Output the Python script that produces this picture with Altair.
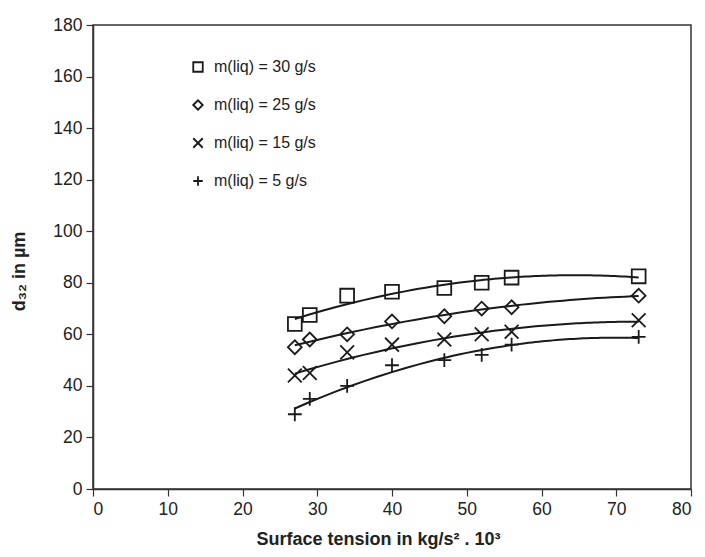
import altair as alt
import pandas as pd

# Surface tension values (x)
tension = [27, 29, 34, 40, 47, 52, 56, 73]

# d32 values per liquid mass flow
d_30 = [64.0, 67.5, 75.0, 76.5, 78.0, 80.0, 82.0, 82.5]
d_25 = [55.0, 58.0, 60.0, 65.0, 67.0, 70.0, 70.5, 75.0]
d_15 = [44.0, 45.0, 53.0, 56.0, 58.0, 60.0, 61.0, 65.5]
d_5 = [29.0, 35.0, 40.0, 48.0, 50.0, 52.0, 56.0, 59.0]

series_labels = ["m(liq) = 30 g/s", "m(liq) = 25 g/s", "m(liq) = 15 g/s", "m(liq) = 5 g/s"]
series_values = [d_30, d_25, d_15, d_5]

rows = []
for lab, vals in zip(series_labels, series_values):
    for x, y in zip(tension, vals):
        rows.append({"series": lab, "x": x, "y": y})
df = pd.DataFrame(rows)

FONT = "Liberation Sans"
INK = "#1a1a1a"

shape_scale = alt.Scale(
    domain=series_labels,
    range=["square", "diamond", "M-1,-1L1,1M-1,1L1,-1", "M-1,0L1,0M0,-1L0,1"],
)

x_enc = alt.X(
    "x:Q",
    scale=alt.Scale(domain=[0, 80], nice=False),
    axis=alt.Axis(
        values=[0, 10, 20, 30, 40, 50, 60, 70, 80],
        title="Surface tension in kg/s² . 10³",
        titleX=285, titleY=59, titleAlign="center", titleBaseline="bottom",
    ),
)
y_enc = alt.Y(
    "y:Q",
    scale=alt.Scale(domain=[0, 180], nice=False),
    axis=alt.Axis(
        values=list(range(0, 181, 20)),
        title="d₃₂ in µm",
        titleX=-74, titleY=246, titleAngle=-90, titleAlign="center", titleBaseline="middle",
    ),
)

points = alt.Chart(df).mark_point(filled=False, strokeWidth=1.8, color=INK, size=190, opacity=1).encode(
    x=x_enc,
    y=y_enc,
    shape=alt.Shape(
        "series:N",
        scale=shape_scale,
        sort=series_labels,
        legend=alt.Legend(
            title=None,
            orient="none",
            legendX=97,
            legendY=34,
            labelFont=FONT,
            labelFontSize=16,
            labelColor="#222",
            symbolSize=90,
            symbolStrokeWidth=1.8,
            symbolStrokeColor=INK,
            symbolFillColor="transparent",
            rowPadding=20,
            labelOffset=8,
        ),
    ),
)

curves = alt.Chart(df).transform_regression(
    "x", "y", groupby=["series"], method="poly", order=2
).mark_line(color=INK, strokeWidth=2).encode(
    x="x:Q", y="y:Q", detail="series:N"
)

chart = (
    alt.layer(curves, points)
    .properties(
        width=598,
        height=464,
        autosize="none",
        padding={"left": 93, "top": 25, "right": 14, "bottom": 68},
    )
    .configure_view(stroke="#333", strokeWidth=1.5)
    .configure_axis(
        grid=False,
        domainColor="#333",
        domainWidth=1.5,
        tickColor="#333",
        tickSize=7,
        tickWidth=1.2,
        labelFont=FONT,
        labelFontSize=17.5,
        labelColor="#222",
        labelPadding=4,
        titleFont=FONT,
        titleFontSize=18,
        titleFontWeight="bold",
        titleColor="#222",
    )
)

chart.save("out.html", embed_options={"renderer": "svg", "actions": False})
